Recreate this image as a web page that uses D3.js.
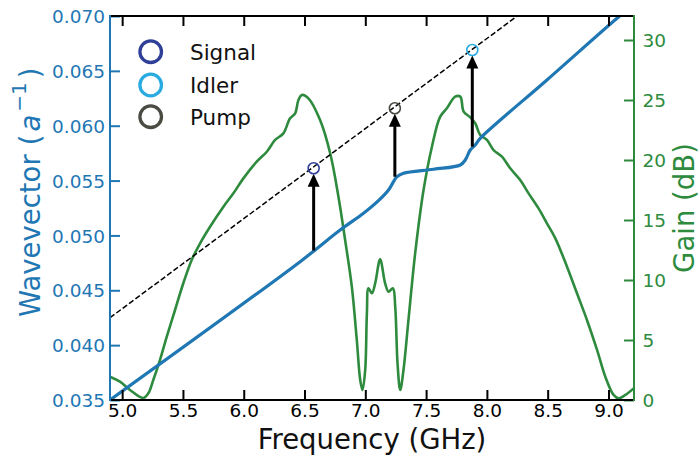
<!DOCTYPE html>
<html><head><meta charset="utf-8">
<script src="https://cdn.jsdelivr.net/npm/d3@7"></script>
<style>
body{margin:0;background:#fff;}
text{font-family:"DejaVu Sans",sans-serif;}
</style></head>
<body><svg id="c" width="699" height="457"></svg>
<script>
// ---- data ----
const xTicks = [5.0,5.5,6.0,6.5,7.0,7.5,8.0,8.5,9.0];
const kTicks = [0.035,0.040,0.045,0.050,0.055,0.060,0.065,0.070];
const gTicks = [0,5,10,15,20,25,30];

const gainFreq = [4.900,4.982,5.065,5.172,5.215,5.256,5.311,5.367,5.435,5.503,5.572,5.641,5.723,5.833,5.915,5.997,6.107,6.190,6.258,6.326,6.381,6.423,6.450,6.478,6.532,6.628,6.711,6.779,6.834,6.889,6.930,6.958,6.977,6.999,7.013,7.026,7.054,7.081,7.122,7.163,7.191,7.227,7.246,7.265,7.287,7.314,7.355,7.410,7.479,7.548,7.616,7.671,7.739,7.781,7.809,7.863,7.904,7.945,8.000,8.055,8.124,8.192,8.274,8.343,8.425,8.494,8.563,8.659,8.741,8.823,8.906,8.974,9.042,9.083,9.139,9.207];
const gainDB = [1.94,1.53,0.83,0.17,0.56,1.67,3.33,5.28,7.5,9.73,11.67,13.06,14.44,16.11,17.22,18.47,19.86,20.69,21.67,22.22,23.47,23.89,25.0,25.42,25.14,23.33,20.56,16.94,13.33,9.44,5.0,1.67,0.83,2.5,7.22,9.31,8.89,9.72,11.72,9.72,9.03,9.31,7.78,3.06,0.83,2.5,6.67,12.22,17.5,21.11,23.61,24.31,25.28,25.28,24.03,23.56,23.06,22.08,21.67,20.83,20.28,19.31,18.33,17.22,15.97,14.72,13.47,11.11,8.89,6.67,4.17,1.94,0.42,0.14,0.42,0.97];

const kFreq = [4.900,6.464,6.793,6.985,7.108,7.191,7.232,7.260,7.314,7.561,7.781,7.822,7.863,7.904,7.945,8.494,9.092,9.15];
const wavevector = [0.0350,0.04761,0.05049,0.05202,0.05317,0.05414,0.05490,0.05535,0.05566,0.05603,0.05642,0.05687,0.05779,0.05824,0.05885,0.06417,0.07000,0.0705];

const pumpLineFreq = [4.9, 8.25];
const pumpLineK = [0.0425, 0.070];

const modeNames = ["Signal","Idler","Pump"];
const modeColors = ["#2f3f98","#29abe2","#4a4b42"];
const modeFreq = [6.575, 7.880, 7.243];
const modeK = [0.05612, 0.06690, 0.06159];
const arrowBaseK = [0.04862, 0.05809, 0.05535];

// ---- layout ----
const blue = "#1f77b4", green = "#2e8b3e";
const L=110, R=634, T=16, B=400;
const svg = d3.select("#c");
const x = d3.scaleLinear().domain([4.9, 9.21]).range([L,R]);
const yK = d3.scaleLinear().domain([0.035,0.070]).range([B,T]);
const yG = d3.scaleLinear().domain([0,32]).range([B,T]);

svg.append("defs").append("clipPath").attr("id","clip")
  .append("rect").attr("x",L).attr("y",T).attr("width",R-L).attr("height",B-T);

const plot = svg.append("g").attr("clip-path","url(#clip)");

// gain curve
const gainPts = gainFreq.map((f,i)=>[f,gainDB[i]]);
plot.append("path").datum(gainPts)
  .attr("d", d3.line().x(d=>x(d[0])).y(d=>yG(d[1])).curve(d3.curveCatmullRom.alpha(0.5)))
  .attr("fill","none").attr("stroke",green).attr("stroke-width",2.6);

// wavevector curve
const kPts = kFreq.map((f,i)=>[f,wavevector[i]]);
plot.append("path").datum(kPts)
  .attr("d", d3.line().x(d=>x(d[0])).y(d=>yK(d[1])).curve(d3.curveCatmullRom.alpha(0.5)))
  .attr("fill","none").attr("stroke",blue).attr("stroke-width",3.2);

// dashed pump line
plot.append("path").datum(pumpLineFreq.map((f,i)=>[f,pumpLineK[i]]))
  .attr("d", d3.line().x(d=>x(d[0])).y(d=>yK(d[1])))
  .attr("fill","none").attr("stroke","#000").attr("stroke-width",1.5)
  .attr("stroke-dasharray","5.5,2.4");

// arrows
const cr = 5.5, headL = 13, headW = 6;
modeFreq.forEach((f,i)=>{
  const xx = x(f), y0 = yK(arrowBaseK[i]), tip = yK(modeK[i]) + cr;
  plot.append("line").attr("x1",xx).attr("x2",xx).attr("y1",y0).attr("y2",tip+headL-1)
    .attr("stroke","#000").attr("stroke-width",3);
  plot.append("path").attr("d",`M${xx},${tip} L${xx-headW},${tip+headL} L${xx+headW},${tip+headL} Z`)
    .attr("fill","#000");
});
// mode circles
modeFreq.forEach((f,i)=>{
  plot.append("circle").attr("cx",x(f)).attr("cy",yK(modeK[i])).attr("r",cr)
    .attr("fill","none").attr("stroke",modeColors[i]).attr("stroke-width",1.6);
});

// ---- axes ----
const fs = 18.5;
const gx = svg.append("g").attr("transform",`translate(0,${B})`)
  .call(d3.axisBottom(x).tickValues(xTicks).tickFormat(d3.format(".1f")).tickSize(-10).tickPadding(4));
const gxt = svg.append("g").attr("transform",`translate(0,${T})`)
  .call(d3.axisTop(x).tickValues(xTicks).tickFormat("").tickSize(-10));
const gl = svg.append("g").attr("transform",`translate(${L},0)`)
  .call(d3.axisLeft(yK).tickValues(kTicks).tickFormat(d3.format(".3f")).tickSize(-10).tickPadding(5));
const gr = svg.append("g").attr("transform",`translate(${R},0)`)
  .call(d3.axisRight(yG).tickValues(gTicks).tickFormat(d3.format("d")).tickSize(-10).tickPadding(8.5));

[gx,gxt,gl,gr].forEach(g=>{ g.select(".domain").remove(); g.selectAll("text").attr("font-size",fs).attr("font-family","DejaVu Sans"); g.selectAll("line").attr("stroke-width",2); });
gx.selectAll("line").attr("stroke","#000"); gxt.selectAll("line").attr("stroke","#000");
gx.selectAll("text").attr("fill","#000");
gl.selectAll("line").attr("stroke",blue); gl.selectAll("text").attr("fill",blue).attr("dy","0.36em");
gr.selectAll("line").attr("stroke",green); gr.selectAll("text").attr("fill",green).attr("dy","0.36em");

// spines
svg.append("line").attr("x1",L).attr("x2",R).attr("y1",T).attr("y2",T).attr("stroke","#000").attr("stroke-width",2);
svg.append("line").attr("x1",L).attr("x2",R).attr("y1",B).attr("y2",B).attr("stroke","#000").attr("stroke-width",2);
svg.append("line").attr("x1",L).attr("x2",L).attr("y1",T-1).attr("y2",B+1).attr("stroke",blue).attr("stroke-width",2);
svg.append("line").attr("x1",R).attr("x2",R).attr("y1",T-1).attr("y2",B+1).attr("stroke",green).attr("stroke-width",2);

// axis labels
svg.append("text").attr("x",(L+R)/2).attr("y",448.5).attr("text-anchor","middle")
  .attr("font-size",27.5).attr("fill","#111").text("Frequency (GHz)");

const yl = svg.append("text").attr("transform","translate(40,317) rotate(-90)")
  .attr("text-anchor","start").attr("font-size",27.5).attr("fill",blue);
yl.append("tspan").text("Wavevector");
yl.append("tspan").attr("dx",9).text("(");
yl.append("tspan").attr("dx",3).attr("font-style","italic").text("a");
yl.append("tspan").attr("dx",3).attr("font-size",20).attr("dy",-14).text("\u22121");
yl.append("tspan").attr("dx",4).attr("dy",14).text(")");

svg.append("text").attr("transform","translate(694,208) rotate(-90)")
  .attr("text-anchor","middle").attr("font-size",27.5).attr("fill",green).text("Gain (dB)");

// legend
const legY = [51.7, 85, 116.7];
modeNames.forEach((n,i)=>{
  svg.append("circle").attr("cx",150.7).attr("cy",legY[i]).attr("r",10.8)
    .attr("fill","none").attr("stroke",modeColors[i]).attr("stroke-width",3.3);
  svg.append("text").attr("x",190).attr("y",legY[i]+8).attr("font-size",21.5).attr("fill","#111").text(n);
});
</script></body></html>
